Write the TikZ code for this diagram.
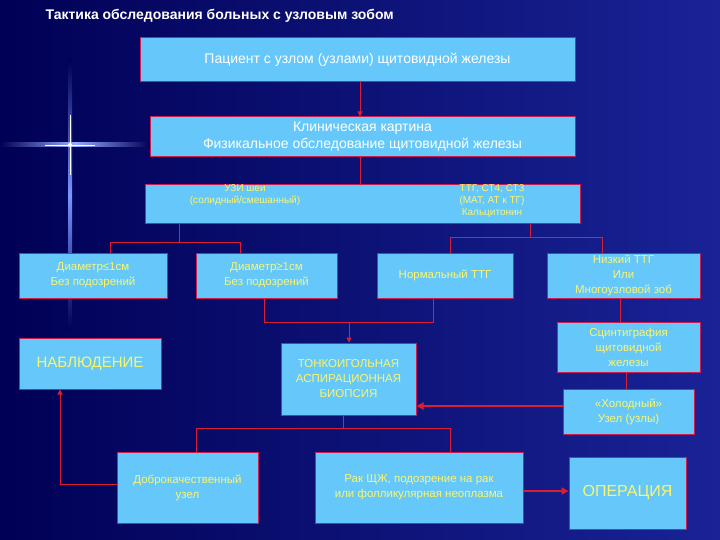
\documentclass[tikz,border=0pt]{standalone}
\usepackage{fontspec}
\setmainfont{Liberation Sans}
\usetikzlibrary{arrows.meta}
\definecolor{bxfill}{RGB}{102,200,250}
\definecolor{bxline}{RGB}{200,30,80}
\definecolor{txty}{RGB}{250,245,110}
\definecolor{lnred}{RGB}{220,30,50}
\newcommand\mybx[7][]{\node[bx,#1,minimum width={(#5-#3)*1pt},minimum height={(#6-#4)*1pt}] (#2) at ({(#3+#5)/2},{(#4+#6)/2}) {#7};}
\begin{document}
\begin{tikzpicture}[x=1pt,y=-1pt,
 bx/.style={draw=bxline,fill=bxfill,line width=1pt,inner sep=0pt,align=center,text=txty,font=\fontsize{11.5}{15}\selectfont},
 wt/.style={text=white,font=\fontsize{14}{17}\selectfont},
 ln/.style={draw=lnred,line width=0.8pt},
 arr/.style={ln,-{Triangle[length=5pt,width=5pt]}},
 tarr/.style={draw=lnred,line width=2pt,-{Triangle[length=7pt,width=7pt]}}]
\useasboundingbox (0,0) rectangle (720,540);
\shade[left color={rgb,255:red,0;green,0;blue,85},right color={rgb,255:red,25;green,35;blue,150}] (0,0) rectangle (720,540);
% flare
\shade[top color={rgb,255:red,0;green,0;blue,85},bottom color={rgb,255:red,0;green,0;blue,85},middle color={rgb,255:red,120;green,150;blue,255}] (68,60) rectangle (72,330);
\shade[left color={rgb,255:red,0;green,0;blue,85},right color={rgb,255:red,0;green,0;blue,85},middle color={rgb,255:red,150;green,170;blue,255}] (0,143) rectangle (150,147);
\fill[white] (70,145) circle (2);
\draw[white,line width=0.7pt] (70,115)--(70,175) (45,145)--(95,145);
\node[anchor=west,text=white,font=\bfseries\fontsize{14}{16}\selectfont] (title) at (42,16) {Тактика обследования больных с узловым зобом};
\mybx[wt]{p}{140}{38}{575}{82}{Пациент с узлом (узлами) щитовидной железы}
\mybx[wt]{k}{150}{117}{575}{157}{Клиническая картина\\Физикальное обследование щитовидной железы}
\mybx{u}{145}{185}{580}{224}{}
\node[text=txty,align=center,font=\fontsize{10}{11.5}\selectfont,anchor=north] (u1) at (245,181) {УЗИ шеи\\(солидный/смешанный)};
\node[text=txty,align=center,font=\fontsize{10}{12}\selectfont,anchor=north] (u2) at (492,181) {ТТГ, СТ4, СТ3\\(МАТ, АТ к ТГ)\\Кальцитонин};
\mybx{d1}{19}{253}{167}{298}{Диаметр≤1см\\Без подозрений}
\mybx{d2}{196}{253}{337}{298}{Диаметр≥1см\\Без подозрений}
\mybx{n}{377}{253}{513}{298}{Нормальный ТТГ}
\mybx{l}{547}{253}{700}{298}{Низкий ТТГ\\Или\\Многоузловой зоб}
\mybx{sc}{557}{322}{700}{372}{Сцинтиграфия\\щитовидной\\железы}
\mybx[font=\fontsize{15}{18}\selectfont]{nab}{19}{338}{161}{389}{НАБЛЮДЕНИЕ}
\mybx{tab}{281}{343}{416}{415}{ТОНКОИГОЛЬНАЯ\\АСПИРАЦИОННАЯ\\БИОПСИЯ}
\mybx{cold}{563}{389}{694}{434}{«Холодный»\\Узел (узлы)}
\mybx{ben}{117}{452}{258}{523}{Доброкачественный\\узел}
\mybx{rak}{315}{452}{523}{523}{Рак ЩЖ, подозрение на рак\\или фолликулярная неоплазма}
\mybx[font=\fontsize{16}{19}\selectfont]{op}{569}{457}{686}{529}{ОПЕРАЦИЯ}
% connectors
\draw[arr] (p.south -| 360,0) -- (k.north -| 360,0);
\draw[ln] (k.south -| 360,0) -- (u.north -| 360,0);
\draw[ln] (u.south -| 179,0) -- (179,242);
\draw[ln] (d1.north -| 110,0) |- (240,242) -- (d2.north -| 240,0);
\draw[ln] (u.south -| 530,0) -- (530,237);
\draw[ln] (n.north -| 450,0) |- (602,237) -- (l.north -| 602,0);
\draw[ln] (d2.south -| 264,0) |- (433,322) -- (n.south -| 433,0);
\draw[arr] (349,322) -- (tab.north -| 349,0);
\draw[ln] (l.south -| 620,0) -- (sc.north -| 620,0);
\draw[ln] (sc.south -| 626,0) -- (cold.north -| 626,0);
\draw[tarr] (cold.west |- 0,406) -- (tab.east |- 0,406);
\draw[ln] (tab.south -| 343,0) -- (343,428);
\draw[ln] (ben.north -| 196,0) |- (450,428) -- (rak.north -| 450,0);
\draw[arr] (ben.west |- 0,484) -| (nab.south -| 60,0);
\draw[tarr] (rak.east |- 0,491) -- (op.west |- 0,491);
\end{tikzpicture}
\end{document}
